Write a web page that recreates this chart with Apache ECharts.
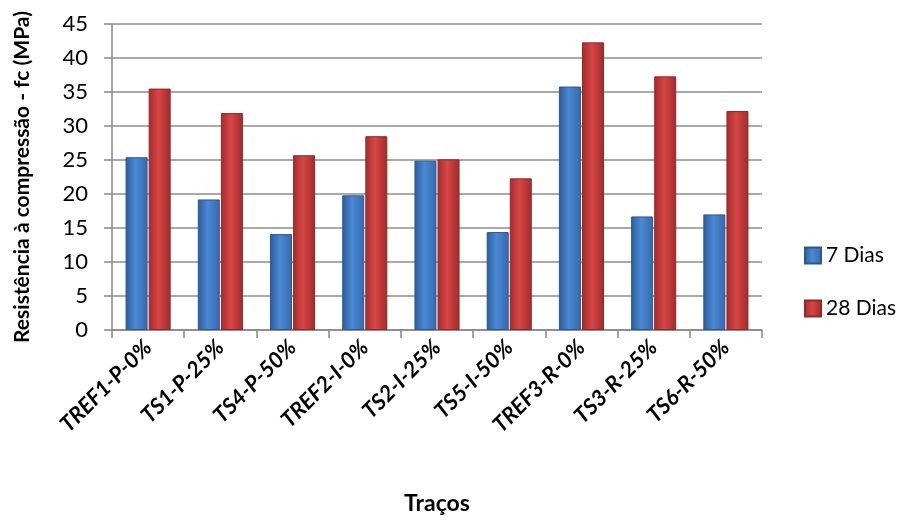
<!DOCTYPE html>
<html><head><meta charset="utf-8">
<script src="https://cdn.jsdelivr.net/npm/echarts@6/dist/echarts.min.js"></script>
<style>html,body{margin:0;padding:0;background:#fff}#c{width:902px;height:522px}</style>
</head><body><div id="c"></div>
<script>
const categories = ['TREF1-P-0%','TS1-P-25%','TS4-P-50%','TREF2-I-0%','TS2-I-25%','TS5-I-50%','TREF3-R-0%','TS3-R-25%','TS6-R-50%'];
const dias7 = [25.4, 19.2, 14.1, 19.8, 24.9, 14.4, 35.8, 16.7, 17.0];
const dias28 = [35.5, 31.9, 25.7, 28.5, 25.1, 22.3, 42.3, 37.3, 32.2];
const yTicks = [0,5,10,15,20,25,30,35,40,45];
const FONT = 'Lato';
function grad(c1,c2,c3){return new echarts.graphic.LinearGradient(0,0,1,0,[{offset:0,color:c1},{offset:0.45,color:c2},{offset:1,color:c3}]);}
const chart = echarts.init(document.getElementById('c'));
chart.setOption({
  animation:false,
  textStyle:{fontFamily:FONT},
  grid:{left:112,right:140,top:24,bottom:192},
  legend:{orient:'vertical',left:799,top:240,itemWidth:16,itemHeight:16,itemGap:32,
    textStyle:{fontSize:21,color:'#000',fontFamily:FONT},
    data:[{name:'7 Dias',icon:'rect'},{name:'28 Dias',icon:'rect'}]},
  xAxis:{type:'category',data:categories,
    axisLine:{lineStyle:{color:'#868686',width:1.5}},
    axisTick:{show:true,length:8,lineStyle:{color:'#868686',width:1.5}},
    axisLabel:{rotate:45,fontSize:22,fontWeight:'bold',fontStyle:'italic',color:'#000',margin:14,fontFamily:FONT},
    name:'Traços',nameLocation:'middle',nameGap:162,
    nameTextStyle:{fontSize:23,fontWeight:'bold',color:'#000',fontFamily:FONT}},
  yAxis:{type:'value',min:yTicks[0],max:yTicks[yTicks.length-1],interval:5,
    axisLine:{show:true,lineStyle:{color:'#868686',width:1.5}},
    axisTick:{show:true,length:8,lineStyle:{color:'#868686',width:1.5}},
    splitLine:{lineStyle:{color:'#8c8c8c',width:1.5}},
    axisLabel:{fontSize:22,color:'#000',margin:24,fontFamily:FONT},
    name:'Resistência à compressão - fc (MPa)',nameLocation:'middle',nameGap:79,nameRotate:90,
    nameTextStyle:{fontSize:21,fontWeight:'bold',color:'#000',fontFamily:FONT}},
  series:[
    {name:'7 Dias',type:'bar',data:dias7,barWidth:22,barGap:'5%',
     itemStyle:{color:grad('#2d5c9a','#4b89d3','#3569ad'),borderColor:'#2b5893',borderWidth:1}},
    {name:'28 Dias',type:'bar',data:dias28,barWidth:22,barGap:'5%',
     itemStyle:{color:grad('#a52c2c','#d64646','#a22a2a'),borderColor:'#952626',borderWidth:1}}
  ]
});
</script></body></html>
